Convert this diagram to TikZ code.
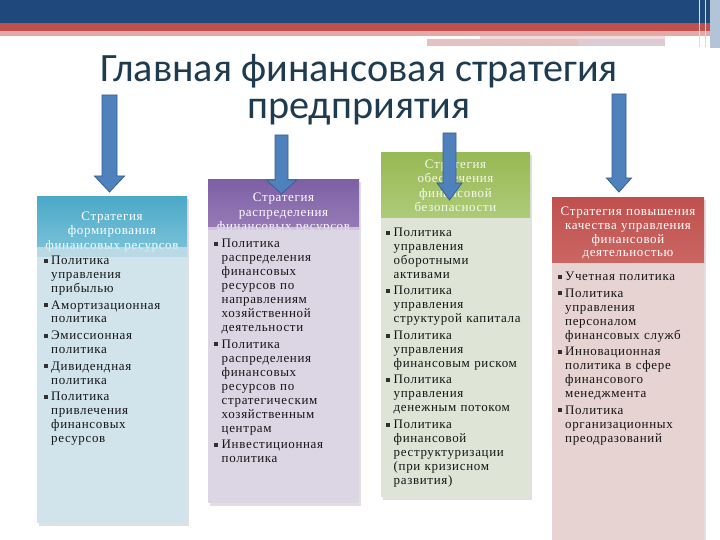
\documentclass[tikz,border=0pt]{standalone}
\usepackage{fontspec}
\setmainfont{Liberation Serif}
\newfontfamily\titlefont{Carlito}
\newfontfamily\bodyfont[LetterSpace=5]{Liberation Serif}
\usetikzlibrary{calc}

\definecolor{topblue}{HTML}{1F497D}
\definecolor{topred}{HTML}{C0504D}
\definecolor{toppink}{HTML}{E2A9A6}
\definecolor{stripeA}{HTML}{E3C2BF}
\definecolor{stripeB}{HTML}{DCCBD5}
\definecolor{edgeblue}{HTML}{B3C3D8}
\definecolor{titlec}{HTML}{1E3B4F}
\definecolor{arrowfill}{HTML}{4F81BD}
\definecolor{arrowline}{HTML}{38618F}
\definecolor{hAtop}{HTML}{4BAAC8}
\definecolor{hAbot}{HTML}{7FC4DA}
\definecolor{bA}{HTML}{D1E4EB}
\definecolor{hBtop}{HTML}{7D60A4}
\definecolor{hBbot}{HTML}{977CB8}
\definecolor{bB}{HTML}{DCD5E4}
\definecolor{hCtop}{HTML}{98B954}
\definecolor{hCbot}{HTML}{AECB78}
\definecolor{bC}{HTML}{DEE4D6}
\definecolor{hDtop}{HTML}{C0504D}
\definecolor{hDbot}{HTML}{CB6663}
\definecolor{bD}{HTML}{E6D3D2}
\definecolor{bodytext}{HTML}{151515}
\definecolor{bulletc}{HTML}{303030}

\newlength\itemgap
\setlength\itemgap{2.5pt}
\newcommand\bulletbox{\makebox[7.5pt][l]{\raisebox{1.8pt}{\textcolor{bulletc}{\rule{3.8pt}{3.8pt}}}}}
\newcommand\firstitm{\hangindent=7.5pt\hangafter=1\bulletbox}
\newcommand\itm{\par\vskip\itemgap\hangindent=7.5pt\hangafter=1\noindent\bulletbox}
\newcommand\nl{\newline}
\newcommand\barrow[7]{%
  \coordinate (#1s) at (#2,#3);
  \coordinate (#1e) at (#2,#5);
  \filldraw[arrowst] ($(#1s)+(-#6,0)$) -- ($(#1s)+(#6,0)$) -- (#2+#6,#4) -- (#2+#7,#4)
    -- (#1e) -- (#2-#7,#4) -- (#2-#6,#4) -- cycle;}

\tikzset{
  titlest/.style={font=\titlefont\fontsize{40.2}{40}\selectfont, text=titlec, inner sep=0pt, anchor=base},
  headst/.style={font=\bodyfont\fontsize{13}{14.5}\selectfont, text=white, inner sep=0pt,
    anchor=base, text width=#1, align=center},
  listst/.style={font=\bodyfont\fontsize{13}{14}\selectfont, text=bodytext, inner sep=0pt,
    anchor=base west, text width=150pt},
  arrowst/.style={fill=arrowfill, draw=arrowline, line width=0.8pt, line join=miter},
  shadowst/.style={fill=black, opacity=0.12},
}

\begin{document}
\begin{tikzpicture}[x=1pt,y=-1pt]
\useasboundingbox (0,0) rectangle (720,540);
\fill[white] (0,0) rectangle (720,540);

% top decoration
\fill[topblue] (0,0) rectangle (720,23);
\fill[topred] (0,23) rectangle (720,31.5);
\fill[toppink] (0,31.5) rectangle (720,36);
\fill[topred!20] (480,36) rectangle (665,39);
\fill[stripeA] (427,39.5) rectangle (578,46);
\fill[stripeB] (578,39.5) rectangle (665,46);
\fill[edgeblue] (710,0) rectangle (720,48);
\draw[white!75!gray, line width=1pt] (699,0) -- (699,47);
\draw[white!70!gray, line width=0.8pt] (705.5,0) -- (705.5,47);

% title
\node[titlest] (title) at (359,82) {Главная финансовая стратегия};
\node[titlest] (title2) at (359,119) {предприятия};

% box 1
\fill[shadowst] (39,199) rectangle (189,525.5);
\shade[top color=hAtop, bottom color=hAbot] (37,197) rectangle (187,257);
\node[headst=146pt] (h1) at (112,220.5) {Стратегия\\формирования\\финансовых ресурсов};
\fill[bA, opacity=0.72] (37,247) rectangle (187,257);
\fill[bA] (37,257) rectangle (187,523);
\node[listst] (l1) at (43.5,264.5) {%
\firstitm Политика\nl управления\nl прибылью
\itm Амортизационная\nl политика
\itm Эмиссионная\nl политика
\itm Дивидендная\nl политика
\itm Политика\nl привлечения\nl финансовых\nl ресурсов\par};

% box 2
\fill[shadowst] (210,182) rectangle (361,505.5);
\shade[top color=hBtop, bottom color=hBbot] (208,180) rectangle (359,230);
\node[headst=147pt] (h2) at (283.5,201.5) {Стратегия\\распределения\\финансовых ресурсов};
\fill[bB, opacity=0.8] (208,227) rectangle (359,230);
\fill[bB] (208,230) rectangle (359,503);
\node[listst] (l2) at (214,247.5) {%
\firstitm Политика\nl распределения\nl финансовых\nl ресурсов по\nl направлениям\nl хозяйственной\nl деятельности
\itm Политика\nl распределения\nl финансовых\nl ресурсов по\nl стратегическим\nl хозяйственным\nl центрам
\itm Инвестиционная\nl политика\par};

% box 3
\fill[shadowst] (383,155) rectangle (532,499.5);
\shade[top color=hCtop, bottom color=hCbot] (381,153) rectangle (530,218);
\node[headst=145pt, text=white!90!hCtop] (h3) at (455.5,168.5) {Стратегия\\обеспечения\\финансовой\\безопасности};
\fill[bC] (381,218) rectangle (530,497);
\node[listst] (l3) at (386,236.5) {%
\firstitm Политика\nl управления\nl оборотными\nl активами
\itm Политика\nl управления\nl структурой капитала
\itm Политика\nl управления\nl финансовым риском
\itm Политика\nl управления\nl денежным потоком
\itm Политика\nl финансовой\nl реструктуризации\nl (при кризисном\nl развития)\par};

% box 4
\fill[shadowst] (554,200) rectangle (706,540);
\shade[top color=hDtop, bottom color=hDbot] (552,198) rectangle (704,263);
\node[headst=150pt, font=\bodyfont\fontsize{13}{13.8}\selectfont] (h4) at (628,215.5) {Стратегия повышения\\качества управления\\финансовой\\деятельностью};
\fill[bD] (552,263) rectangle (704,540);
\node[listst] (l4) at (557.5,280.5) {%
\firstitm Учетная политика
\itm Политика\nl управления\nl персоналом\nl финансовых служб
\itm Инновационная\nl политика в сфере\nl финансового\nl менеджмента
\itm Политика\nl организационных\nl преодразований\par};

% arrows
\barrow{a1}{109.5}{95}{176}{192}{7.5}{15}
\barrow{a2}{281.5}{135}{180}{194}{6.5}{15}
\barrow{a3}{449.5}{133}{183}{200}{6.5}{12.5}
\barrow{a4}{619}{94}{178}{192}{7}{12.5}
\end{tikzpicture}
\end{document}
